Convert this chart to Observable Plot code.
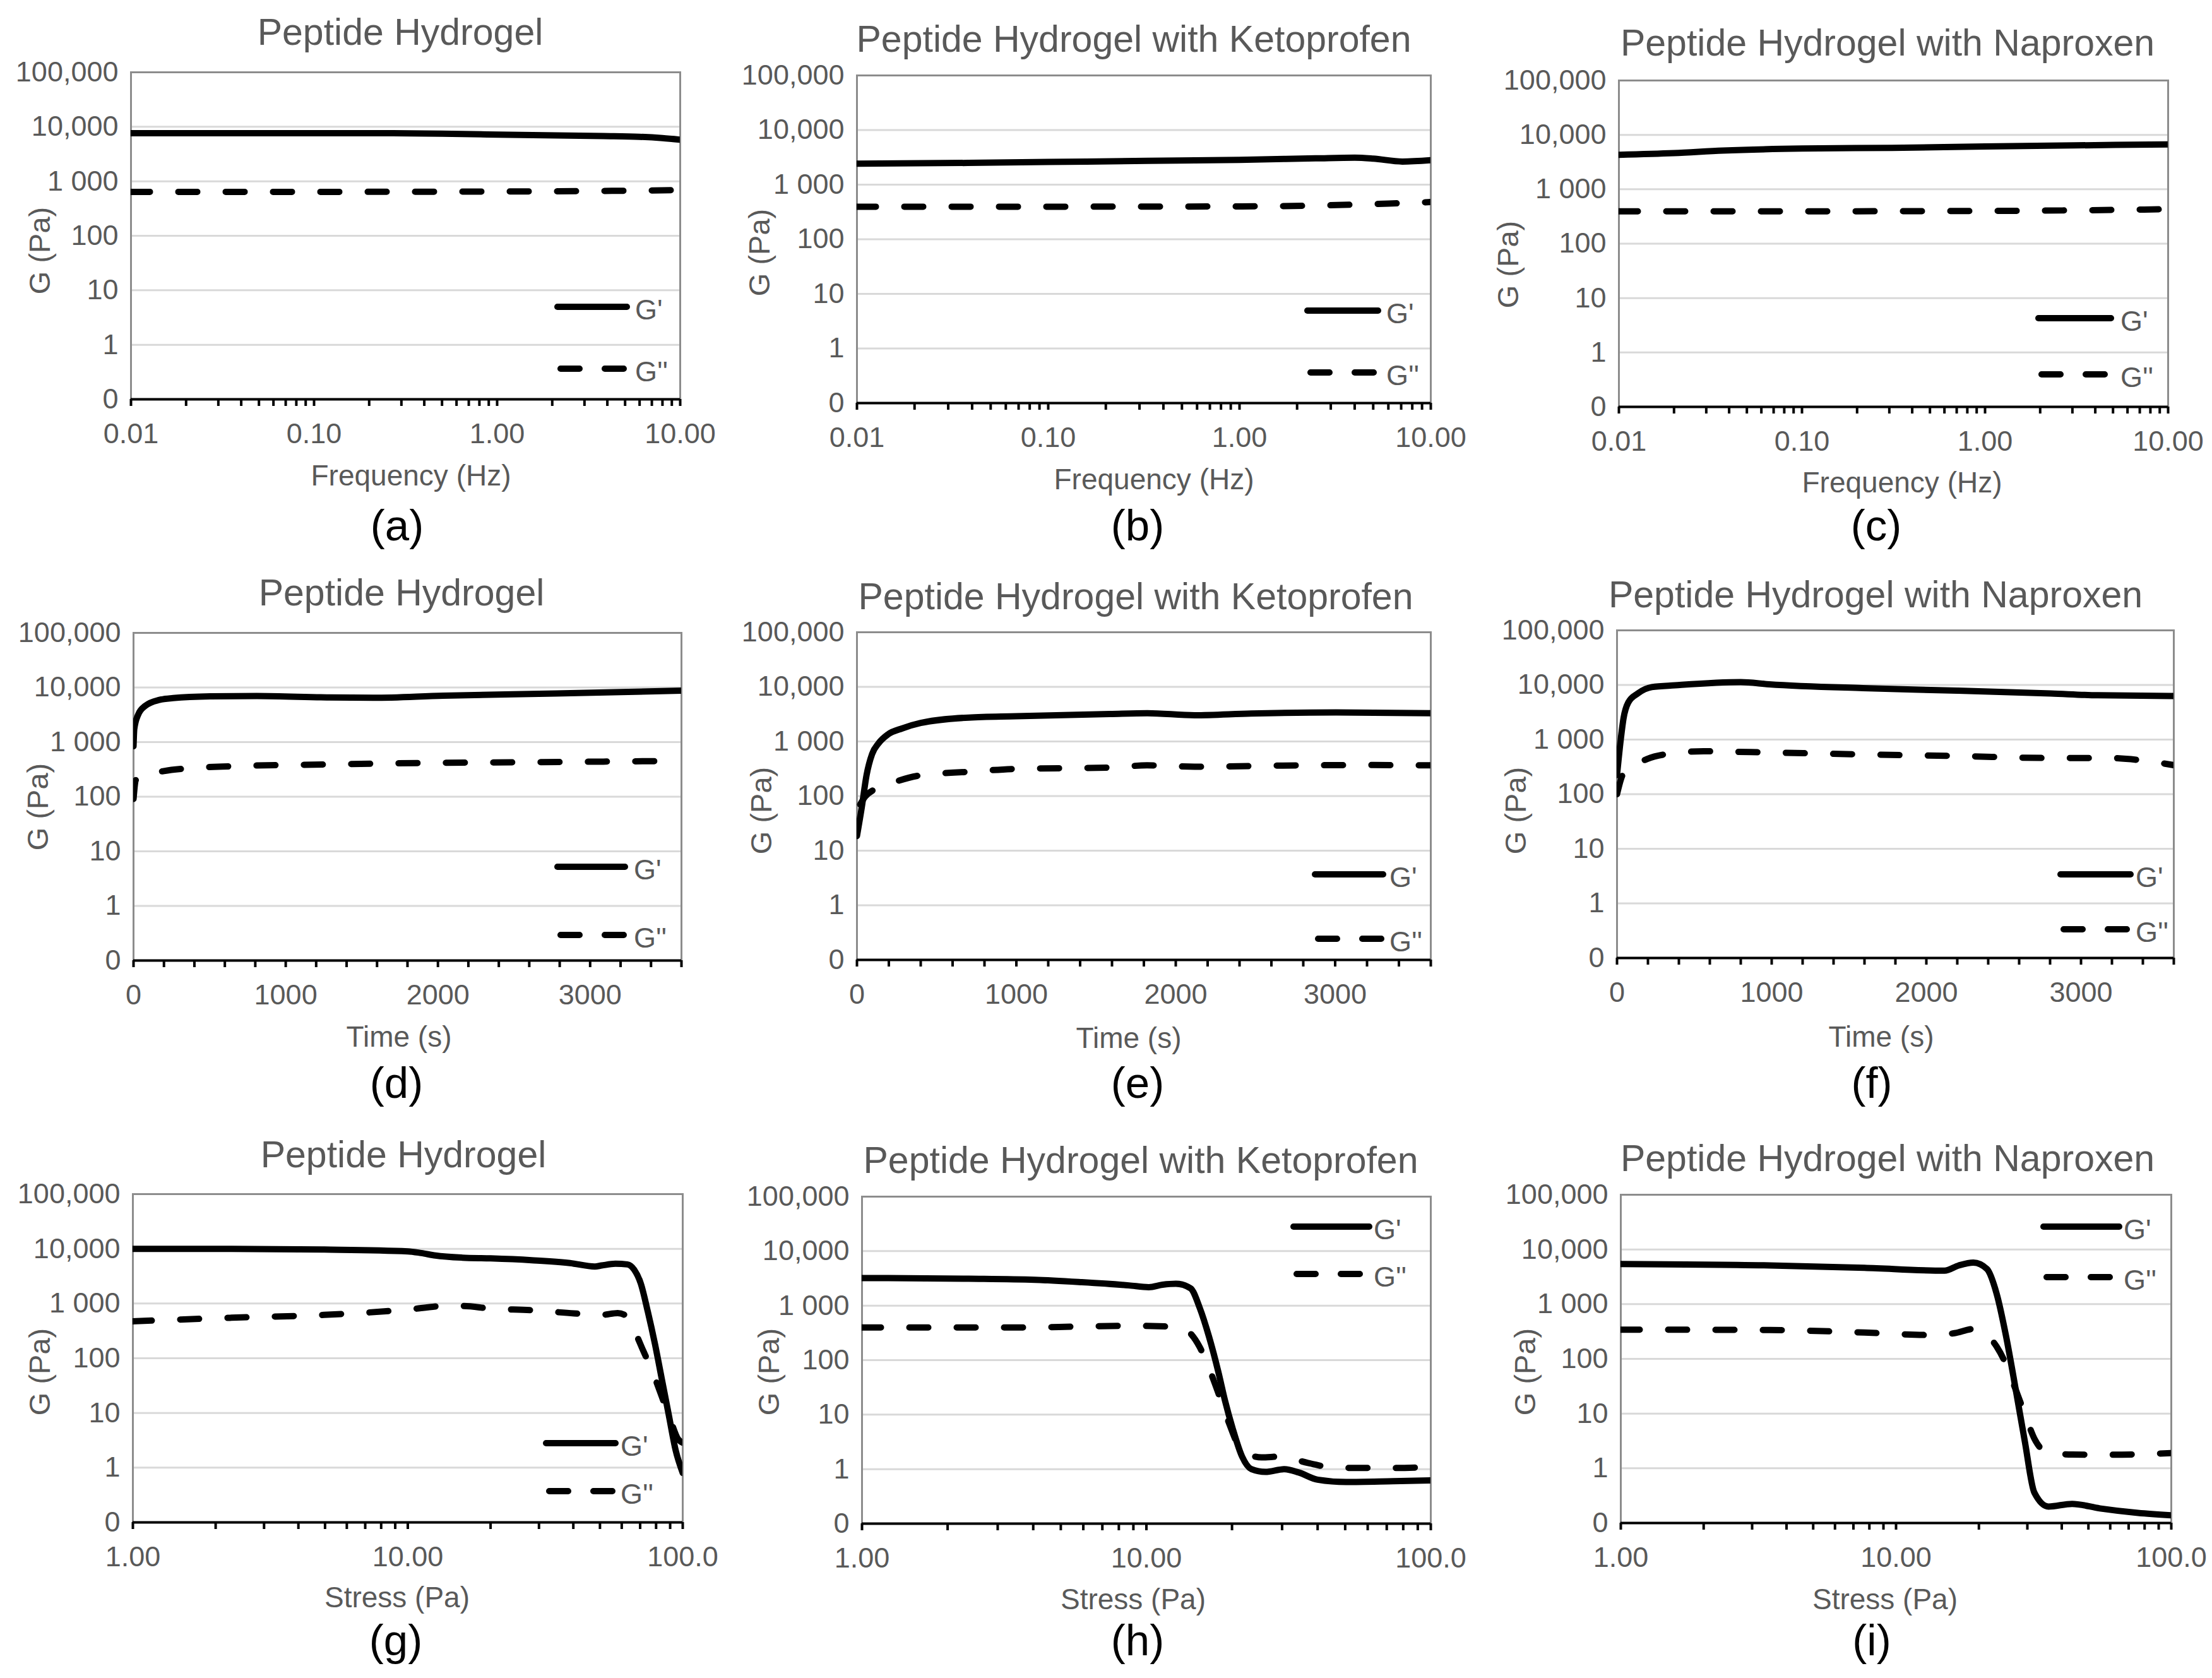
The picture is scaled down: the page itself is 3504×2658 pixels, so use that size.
<!DOCTYPE html>
<html><head><meta charset="utf-8">
<script src="https://cdn.jsdelivr.net/npm/d3@7"></script>
<script src="https://cdn.jsdelivr.net/npm/@observablehq/plot@0.6"></script>
<style>
html,body{margin:0;padding:0;background:#fff}
#root{position:relative;width:3504px;height:2658px;overflow:hidden;font-family:"Liberation Sans",Arial,Helvetica,sans-serif;background:#fff}
.t{position:absolute;white-space:nowrap;line-height:1;color:#595959}
.p{position:absolute}
.p svg{max-width:none!important}
</style></head>
<body><div id="root"></div>
<script>
// ---------- tick labels ----------
const yTickValues = [0.1, 1, 10, 100, 1000, 10000, 100000];
const yTickLabels = ["0", "1", "10", "100", "1 000", "10,000", "100,000"];
const freqTickValues = [0.01, 0.1, 1, 10];
const freqTickLabels = ["0.01", "0.10", "1.00", "10.00"];
const timeTickValues = [0, 1000, 2000, 3000];
const timeTickLabels = ["0", "1000", "2000", "3000"];
const stressTickValues = [1, 10, 100];
const stressTickLabels = ["1.00", "10.00", "100.0"];
const titles = ["Peptide Hydrogel", "Peptide Hydrogel with Ketoprofen", "Peptide Hydrogel with Naproxen"];
const seriesNames = ["G'", "G''"];

// ---------- data: [x, G (Pa)] ----------
// frequency sweeps
const freqA_Gp = [[0.01,7650],[0.1,7650],[0.27,7600],[0.5,7450],[1.17,7150],[2.1,6950],[3.8,6750],[6,6550],[8,6200],[10,5800]];
const freqA_Gpp = [[0.01,640],[0.1,640],[1,650],[3,660],[6,675],[10,690]];
const freqB_Gp = [[0.01,2430],[0.038,2500],[0.1,2600],[0.33,2730],[1,2850],[2.5,3030],[4,3120],[5,3000],[7.1,2650],[10,2800]];
const freqB_Gpp = [[0.01,395],[0.1,395],[1,400],[3,420],[6,450],[10,480]];
const freqC_Gp = [[0.01,4300],[0.02,4620],[0.037,5140],[0.1,5610],[0.31,5780],[1,6130],[3.1,6410],[10,6700]];
const freqC_Gpp = [[0.01,394],[0.1,394],[1,400],[3.1,410],[10,430]];
// time sweeps
const timeD_Gp = [[0,840],[5,1740],[30,3160],[77,4600],[170,5930],[260,6390],[505,6880],[811,6990],[1270,6580],[1576,6480],[2035,7090],[2495,7530],[3107,8110],[3600,8740]];
const timeD_Gpp = [[0,91],[15,202],[46,235],[200,295],[352,330],[658,362],[1270,390],[1882,414],[2495,426],[3107,440],[3600,453]];
const timeE_Gp = [[0,18.6],[30,62],[60,240],[95,590],[136,930],[195,1350],[285,1740],[400,2180],[700,2740],[1000,2900],[1586,3180],[1822,3300],[2118,3020],[2473,3250],[3006,3400],[3600,3300]];
const timeE_Gpp = [[20,70],[50,97],[107,131],[225,177],[400,240],[700,278],[1000,315],[1586,333],[1820,365],[2118,345],[2770,365],[3240,370],[3600,365]];
const timeF_Gp = [[0,224],[24,1000],[42,2450],[73,4800],[134,6980],[225,9140],[376,9850],[800,11270],[984,10300],[1590,8740],[2200,7870],[2805,6980],[3108,6480],[3600,6290]];
const timeF_Gpp = [[0,100],[42,240],[194,440],[376,566],[560,610],[862,590],[1590,534],[2200,500],[2805,460],[3170,460],[3412,410],[3600,340]];
// stress sweeps
const stressG_Gp = [[1,10000],[2.28,10000],[4.96,9700],[10,9000],[11.2,8360],[12.6,7540],[15.8,6890],[20,6690],[28.2,6200],[38.9,5500],[47.9,4750],[50.7,4960],[56.9,5340],[62.9,5190],[66.6,4150],[70.3,2360],[74.6,720],[79.2,185],[83.9,42],[88.9,9.4],[94.2,2.1],[100,0.8]];
const stressG_Gpp = [[1,474],[2.28,550],[4.96,620],[10,776],[13.6,900],[15.8,900],[20,810],[28.2,754],[40.3,660],[50.7,620],[58,670],[61.5,620],[66.3,340],[71.7,140],[77.6,57],[83.9,20],[90.6,7],[95.9,3.4],[100,2.85]];
const stressH_Gp = [[1,3210],[2.37,3120],[4.05,2980],[5.93,2690],[8.68,2350],[10.2,2180],[11.4,2420],[12.7,2520],[14.3,2080],[15.4,910],[16.6,270],[17.9,61],[18.9,18],[20.1,5.6],[21.7,1.7],[23.4,1.0],[26.2,0.89],[30.6,1.0],[34.3,0.87],[40,0.64],[50.4,0.58],[73.7,0.6],[100,0.62]];
const stressH_Gpp = [[1,397],[3.47,397],[5.93,414],[8.68,427],[12.7,408],[13.7,367],[15.4,173],[16.6,71],[17.9,25],[19.4,7.6],[21.7,2.2],[25.4,1.64],[29.5,1.7],[37,1.3],[46.7,1.05],[73.7,1.05],[100,1.1]];
const stressI_Gp = [[1,5430],[3.48,5110],[7.67,4610],[15,4090],[16.9,5110],[19.1,5760],[21.4,4400],[23.2,1550],[25.1,260],[27.2,28],[29.4,3],[31.8,0.36],[35.8,0.2],[43.6,0.224],[55,0.185],[75.7,0.153],[100,0.138]];
const stressI_Gpp = [[1,342],[3.48,337],[7.67,303],[13.3,273],[16.3,295],[19.1,352],[20.7,303],[23.2,168],[25.1,79],[27.2,27.5],[29.4,9.7],[31.8,3.5],[35.8,1.9],[43.6,1.79],[59.5,1.77],[100,1.9]];

// ---------- axis kinds ----------
const logMinor = (lo, hi) => d3.range(Math.round(Math.log10(lo)), Math.round(Math.log10(hi)))
  .flatMap(k => d3.range(1, 10).map(m => +(m * Math.pow(10, k)).toPrecision(3))).concat([hi]);
const kinds = {
  freq: {x: {type: "log", domain: [0.01, 10]}, major: freqTickValues, labels: freqTickLabels, minor: logMinor(0.01, 10), title: "Frequency (Hz)"},
  time: {x: {type: "linear", domain: [0, 3600]}, major: timeTickValues, labels: timeTickLabels, minor: d3.range(0, 3601, 200), title: "Time (s)"},
  stress: {x: {type: "log", domain: [1, 100]}, major: stressTickValues, labels: stressTickLabels, minor: logMinor(1, 100), title: "Stress (Pa)"}
};

// ---------- layout (page pixels) ----------
const panels = [
 {tag:"(a)", kind:"freq",   t:0, gp:freqA_Gp,   gpp:freqA_Gpp,   L:207,  T:114,  R:1077, B:632,  title:[634,72],    xl:[651,769],   yl:[62,397],    tg:[629,856],   leg:{x:676,len:110,y1:372,y2:470,gap:13}},
 {tag:"(b)", kind:"freq",   t:1, gp:freqB_Gp,   gpp:freqB_Gpp,   L:1357, T:119,  R:2266, B:638,  title:[1796,83],   xl:[1828,775],  yl:[1202,400],  tg:[1802,856],  leg:{x:714,len:112,y1:373,y2:471,gap:13}},
 {tag:"(c)", kind:"freq",   t:2, gp:freqC_Gp,   gpp:freqC_Gpp,   L:2564, T:127,  R:3434, B:644,  title:[2990,89],   xl:[3013,780],  yl:[2388,419],  tg:[2972,856],  leg:{x:665,len:115,y1:377,y2:466,gap:15}},
 {tag:"(d)", kind:"time",   t:0, gp:timeD_Gp,   gpp:timeD_Gpp,   L:211,  T:1002, R:1079, B:1521, title:[636,960],   xl:[632,1658],  yl:[59,1278],   tg:[628,1739],  leg:{x:672,len:107,y1:371,y2:479,gap:14}},
 {tag:"(e)", kind:"time",   t:1, gp:timeE_Gp,   gpp:timeE_Gpp,   L:1357, T:1001, R:2266, B:1520, title:[1799,966],  xl:[1788,1660], yl:[1205,1284], tg:[1802,1739], leg:{x:726,len:108,y1:384,y2:486,gap:10}},
 {tag:"(f)", kind:"time",   t:2, gp:timeF_Gp,   gpp:timeF_Gpp,   L:2561, T:998,  R:3443, B:1517, title:[2971,963],  xl:[2980,1658], yl:[2400,1284], tg:[2965,1739], leg:{x:703,len:111,y1:387,y2:474,gap:8}},
 {tag:"(g)", kind:"stress", t:0, gp:stressG_Gp, gpp:stressG_Gpp, L:210,  T:1891, R:1081, B:2411, title:[639,1850],  xl:[629,2546],  yl:[62,2173],   tg:[627,2622],  leg:{x:655,len:110,y1:395,y2:471,gap:8}},
 {tag:"(h)", kind:"stress", t:1, gp:stressH_Gp, gpp:stressH_Gpp, L:1365, T:1895, R:2266, B:2413, title:[1807,1859], xl:[1795,2549], yl:[1217,2173], tg:[1802,2622], leg:{x:684,len:120,y1:48,y2:123,gap:7}},
 {tag:"(i)", kind:"stress", t:2, gp:stressI_Gp, gpp:stressI_Gpp, L:2567, T:1892, R:3439, B:2412, title:[2990,1856], xl:[2986,2549], yl:[2415,2173], tg:[2965,2622], leg:{x:670,len:120,y1:51,y2:131,gap:7}}
];

const root = document.getElementById("root");
const FONT = '"Liberation Sans", Arial, Helvetica, sans-serif';
const GRAY = "#595959";
const DASH = "30,45";

function addText(txt, x, baseline, size, color) {
  const d = document.createElement("div");
  d.className = "t";
  d.textContent = txt;
  d.style.fontSize = size + "px";
  d.style.left = x + "px";
  d.style.top = (baseline - 0.8465 * size) + "px";
  d.style.transform = "translateX(-50%)";
  if (color) d.style.color = color;
  root.appendChild(d);
  return d;
}
function addRotated(txt, cx, cy, size) {
  const d = document.createElement("div");
  d.className = "t";
  d.textContent = txt;
  d.style.fontSize = size + "px";
  d.style.left = cx + "px";
  d.style.top = cy + "px";
  d.style.transform = "translate(-50%,-50%) rotate(-90deg)";
  root.appendChild(d);
}

const ML = 230, MR = 90, MT = 40, MB = 110;

for (const p of panels) {
  const k = kinds[p.kind];
  const w = p.R - p.L, h = p.B - p.T;
  const chart = Plot.plot({
    width: w + ML + MR, height: h + MT + MB,
    marginLeft: ML, marginRight: MR, marginTop: MT, marginBottom: MB,
    x: {...k.x},
    y: {type: "log", domain: [0.1, 100000]},
    style: {fontFamily: FONT, fontSize: "45px", color: GRAY, background: "transparent", overflow: "visible"},
    marks: [
      Plot.gridY({ticks: yTickValues.slice(1), stroke: "#d9d9d9", strokeOpacity: 1, strokeWidth: 3}),
      Plot.frame({stroke: "#8c8c8c", strokeWidth: 3}),
      Plot.axisY({ticks: yTickValues, tickSize: 0, tickPadding: 20, label: null,
        tickFormat: d => yTickLabels[yTickValues.indexOf(d)]}),
      Plot.line(p.gpp, {x: d => d[0], y: d => d[1], stroke: "black", strokeWidth: 10,
        strokeDasharray: DASH, strokeLinecap: "round", curve: "monotone-x", clip: true}),
      Plot.line(p.gp, {x: d => d[0], y: d => d[1], stroke: "black", strokeWidth: 10,
        curve: "monotone-x", clip: true}),
      Plot.ruleY([0.1], {stroke: "black", strokeWidth: 4}),
      Plot.axisX({ticks: k.minor, tickSize: 11, stroke: "black", strokeWidth: 4, tickFormat: () => "", label: null}),
      Plot.axisX({ticks: k.major, tickSize: 0, tickPadding: 38, label: null,
        tickFormat: d => k.labels[k.major.indexOf(d)]})
    ]
  });
  const holder = document.createElement("div");
  holder.className = "p";
  holder.style.left = (p.L - ML) + "px";
  holder.style.top = (p.T - MT) + "px";
  holder.appendChild(chart);
  root.appendChild(holder);

  // titles and labels
  addText(titles[p.t], p.title[0], p.title[1], 59, GRAY);
  addText(k.title, p.xl[0], p.xl[1], 46, GRAY);
  addText(p.tag, p.tg[0], p.tg[1], 69, "#000");
  addRotated("G (Pa)", p.yl[0], p.yl[1], 47);

  // legend (inside plot area)
  const lg = p.leg;
  const svg = d3.create("svg")
    .attr("width", lg.len + lg.gap + 90).attr("height", lg.y2 - lg.y1 + 60)
    .style("position", "absolute")
    .style("left", (p.L + lg.x - 5) + "px")
    .style("top", (p.T + lg.y1 - 30) + "px")
    .style("overflow", "visible");
  const ys = [30, 30 + (lg.y2 - lg.y1)];
  svg.append("line").attr("x1", 5).attr("x2", 5 + lg.len).attr("y1", ys[0]).attr("y2", ys[0])
    .attr("stroke", "black").attr("stroke-width", 10).attr("stroke-linecap", "round");
  svg.append("line").attr("x1", 10).attr("x2", 5 + lg.len).attr("y1", ys[1]).attr("y2", ys[1])
    .attr("stroke", "black").attr("stroke-width", 10).attr("stroke-linecap", "round").attr("stroke-dasharray", "30,40");
  seriesNames.forEach((n, i) => {
    svg.append("text").attr("x", 5 + lg.len + lg.gap).attr("y", ys[i]).attr("dy", "0.45em")
      .attr("font-family", FONT).attr("font-size", 45).attr("fill", GRAY).text(n);
  });
  root.appendChild(svg.node());
}
</script>
</body></html>
